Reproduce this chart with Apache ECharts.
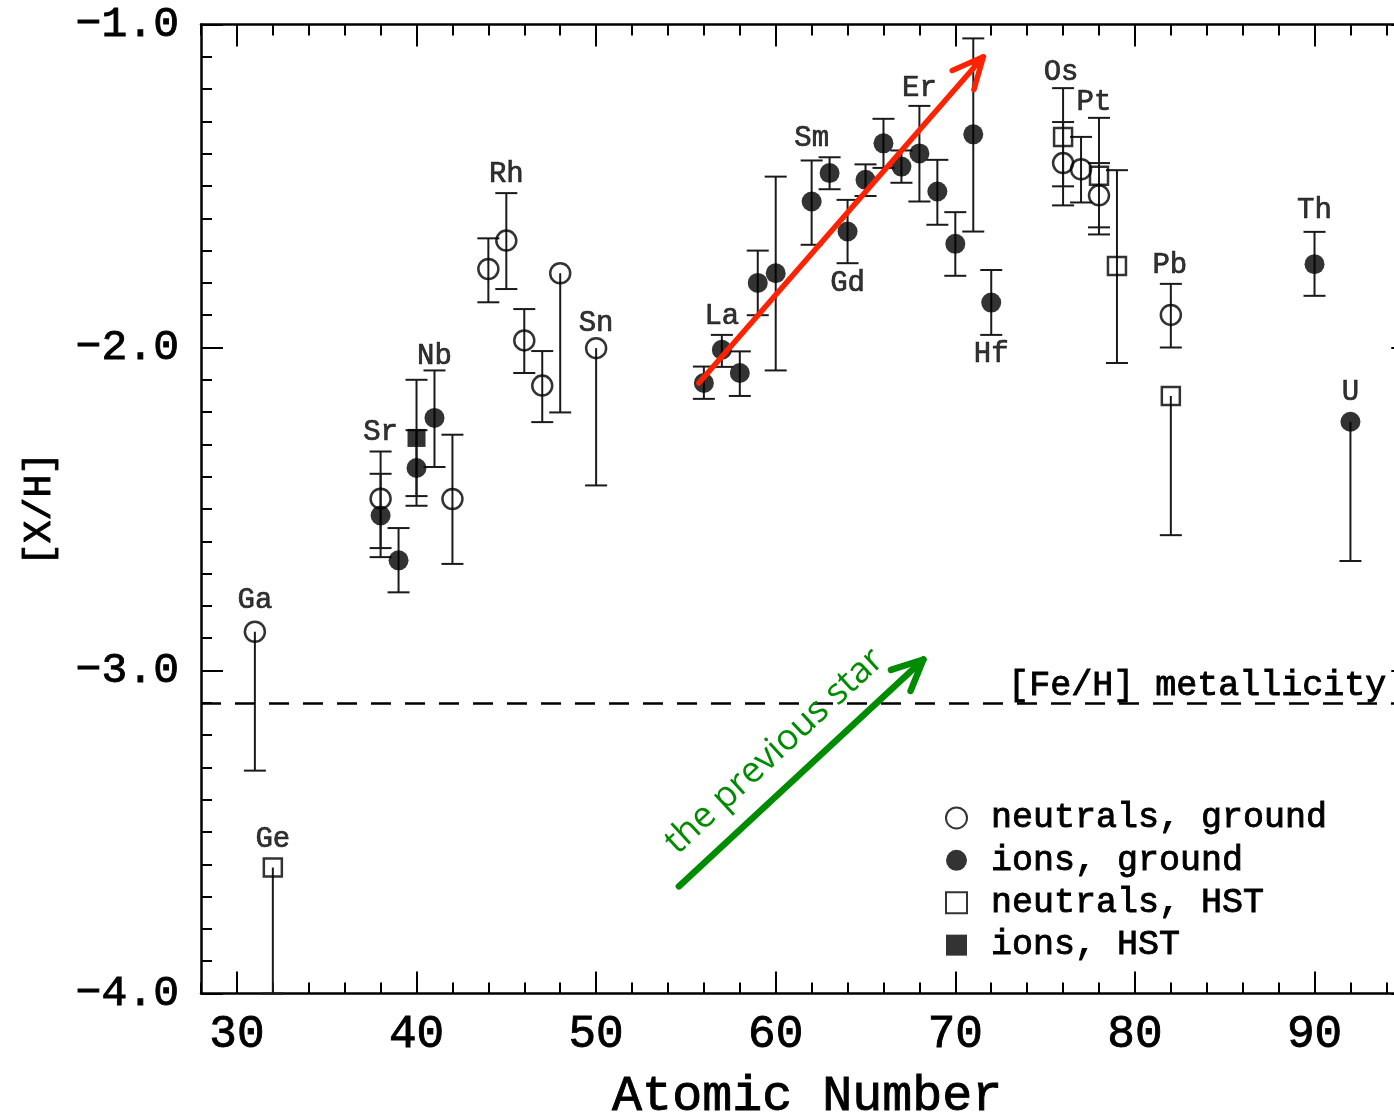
<!DOCTYPE html>
<html><head><meta charset="utf-8">
<script src="https://cdn.jsdelivr.net/npm/echarts@6/dist/echarts.min.js"></script>
<style>html,body{margin:0;padding:0;overflow:hidden;background:#fff}#c{width:1440px;height:1113px}</style>
</head><body><div id="c"></div><script>
// [Z, [X/H], lower end of error bar (null = none), upper end (null = none)]
const neutralsGround = [
  [31, -2.88, -3.31, null],
  [38, -2.468, -2.621, -2.322],
  [42, -2.469, -2.67, -2.27],
  [44, -1.757, -1.86, -1.662],
  [45, -1.669, -1.819, -1.522],
  [46, -1.978, -2.079, -1.881],
  [47, -2.118, -2.231, -2.011],
  [48, -1.77, -2.201, null],
  [50, -2.002, -2.427, null],
  [76, -1.429, -1.56, -1.302],
  [77, -1.448, -1.551, -1.348],
  [78, -1.529, -1.628, -1.429],
  [82, -1.899, -2.0, -1.803]
];
const ionsGround = [
  [38, -2.52, -2.649, -2.391],
  [39, -2.659, -2.758, -2.559],
  [40, -2.373, -2.49, -2.256],
  [41, -2.218, -2.37, -2.071],
  [56, -2.11, -2.159, -2.059],
  [57, -2.007, -2.06, -1.961],
  [58, -2.079, -2.15, -2.012],
  [59, -1.80, -1.90, -1.70],
  [60, -1.77, -2.071, -1.471],
  [62, -1.548, -1.682, -1.421],
  [63, -1.46, -1.51, -1.411],
  [64, -1.641, -1.739, -1.543],
  [65, -1.481, -1.531, -1.433],
  [66, -1.368, -1.444, -1.292],
  [67, -1.44, -1.49, -1.39],
  [68, -1.399, -1.548, -1.252],
  [69, -1.517, -1.62, -1.419],
  [70, -1.679, -1.778, -1.581],
  [71, -1.34, -1.641, -1.043],
  [72, -1.861, -1.961, -1.76],
  [90, -1.742, -1.84, -1.642],
  [92, -2.23, -2.661, null]
];
const neutralsHST = [
  [32, -3.61, -4.0, null],
  [76, -1.348, -1.501, -1.197],
  [78, -1.468, -1.65, -1.289],
  [79, -1.748, -2.048, -1.451],
  [82, -2.15, -2.581, null]
];
const ionsHST = [
  [40, -2.28, -2.46, -2.10]
];
// element labels: [name, Z, [X/H] of the point they belong to]
const elementLabels = [
  ['Ga', 31, -2.88], ['Ge', 32, -3.61], ['Sr', 38, -2.468], ['Nb', 41, -2.218],
  ['Rh', 45, -1.669], ['Sn', 50, -2.002], ['La', 57, -2.007], ['Sm', 62, -1.548],
  ['Gd', 64, -1.641], ['Er', 68, -1.399], ['Hf', 72, -1.861], ['Os', 76, -1.348],
  ['Pt', 78, -1.468], ['Pb', 82, -1.899], ['Th', 90, -1.742], ['U', 92, -2.23]
];
const feH = -3.1;
const feHText = '[Fe/H] metallicity';
const feHTextX = 72.94;
// arrows: [x1, y1, x2, y2] in data units
const arrows = [
  [55.72, -2.11, 71.56, -1.10],
  [54.61, -3.668, 68.22, -2.966]
];
const arrowTexts = ['', 'the previous star'];
const xMajorTicks = [30, 40, 50, 60, 70, 80, 90];
const xMinorTicks = [28,30,32,34,36,38,40,42,44,46,48,50,52,54,56,58,60,62,64,66,68,70,72,74,76,78,80,82,84,86,88,90,92,94];
const yTickLabels = [-4, -3, -2, -1];
const seriesNames = ['neutrals, ground', 'ions, ground', 'neutrals, HST', 'ions, HST'];

// ---------- styles / layout ----------
const MONO = '"Liberation Mono", "DejaVu Sans Mono", monospace';
const THICK = {textBorderColor: '#000', textBorderWidth: 0.9};
const labelOffsets = {
  Ga: [0, -31], Ge: [0, -28], Sr: [0, -66], Nb: [0, -62], Rh: [0, -66], Sn: [0, -25],
  La: [0, -33], Sm: [0, -63], Gd: [0, 52], Er: [0, -65], Hf: [0, 52], Os: [-2, -65],
  Pt: [-5, -73], Pb: [-1, -50], Th: [0, -54], U: [0, -29]
};
const arrowStyles = [
  {color: '#ff2200', width: 5.5, head: 34, spread: 25 * Math.PI / 180},
  {color: '#008c00', width: 6.5, head: 34, spread: 25 * Math.PI / 180, textSize: 36, textNormal: 34, textAlong: -5}
];
const fmtMinus = v => (v < 0 ? '\u2212' : '') + Math.abs(v).toFixed(1);

const chart = echarts.init(document.getElementById('c'), null, {renderer: 'canvas'});

function renderErr(params, api) {
  const x = api.value(0), v = api.value(1), lo = api.value(2), hi = api.value(3);
  const hasLo = lo != null && isFinite(lo), hasHi = hi != null && isFinite(hi);
  const pTop = api.coord([x, hasHi ? hi : v]);
  const pBot = api.coord([x, hasLo ? lo : v]);
  const cw = 11, st = {stroke: '#1a1a1a', lineWidth: 2};
  const ch = [{type: 'line', shape: {x1: pTop[0], y1: pTop[1], x2: pBot[0], y2: pBot[1]}, style: st}];
  if (hasHi) ch.push({type: 'line', shape: {x1: pTop[0] - cw, y1: pTop[1], x2: pTop[0] + cw, y2: pTop[1]}, style: st});
  if (hasLo) ch.push({type: 'line', shape: {x1: pBot[0] - cw, y1: pBot[1], x2: pBot[0] + cw, y2: pBot[1]}, style: st});
  return {type: 'group', children: ch};
}

function renderArrow(params, api) {
  const a = api.coord([api.value(0), api.value(1)]);
  const b = api.coord([api.value(2), api.value(3)]);
  const s = arrowStyles[params.dataIndex];
  const ang = Math.atan2(b[1] - a[1], b[0] - a[0]);
  const h1 = [b[0] - s.head * Math.cos(ang - s.spread), b[1] - s.head * Math.sin(ang - s.spread)];
  const h2 = [b[0] - s.head * Math.cos(ang + s.spread), b[1] - s.head * Math.sin(ang + s.spread)];
  const ls = {stroke: s.color, lineWidth: s.width, lineCap: 'round', lineJoin: 'round', fill: null};
  const ch = [
    {type: 'line', shape: {x1: a[0], y1: a[1], x2: b[0], y2: b[1]}, style: ls},
    {type: 'polyline', shape: {points: [h1, b, h2]}, style: ls}
  ];
  const txt = arrowTexts[params.dataIndex];
  if (txt) {
    const mx = (a[0] + b[0]) / 2, my = (a[1] + b[1]) / 2;
    const d = [Math.cos(ang), Math.sin(ang)];
    const n = [Math.sin(ang), -Math.cos(ang)];
    ch.push({
      type: 'text',
      x: mx + n[0] * s.textNormal + d[0] * s.textAlong,
      y: my + n[1] * s.textNormal + d[1] * s.textAlong,
      rotation: -ang,
      style: {text: txt, fill: s.color, font: s.textSize + 'px "Open Sans", sans-serif', align: 'center', verticalAlign: 'middle'}
    });
  }
  return {type: 'group', children: ch};
}

function renderFeHText(params, api) {
  const p = api.coord([api.value(0), api.value(1)]);
  return {type: 'text', x: p[0], y: p[1] - 17, style: {text: feHText, fill: '#000', stroke: '#000', lineWidth: 0.9, font: '35px ' + MONO, align: 'left', verticalAlign: 'middle'}};
}

const axisLineStyle = {color: '#000', width: 2.5};
const xAxisBase = (pos, ticks, len, showLine) => ({
  type: 'value', min: 28, max: 95.5, position: pos, gridIndex: 0,
  axisLine: {show: showLine, onZero: false, lineStyle: axisLineStyle},
  axisTick: {show: true, inside: true, length: len, customValues: ticks, lineStyle: {color: '#000', width: 2}},
  axisLabel: {show: false},
  splitLine: {show: false}
});

const xAxes = [
  Object.assign(xAxisBase('bottom', xMajorTicks, 22, true), {
    axisLabel: Object.assign({show: true, customValues: xMajorTicks, margin: 18, fontSize: 46, fontFamily: MONO, color: '#000'}, THICK),
    name: 'Atomic Number', nameLocation: 'middle', nameGap: 78,
    nameTextStyle: Object.assign({fontSize: 50, fontFamily: MONO, color: '#000'}, THICK)
  }),
  xAxisBase('bottom', xMinorTicks, 11, false),
  xAxisBase('top', xMajorTicks, 22, true),
  xAxisBase('top', xMinorTicks, 11, false)
];

const yAxisBase = (pos) => ({
  type: 'value', min: -4, max: -1, interval: 1, position: pos,
  axisLine: {show: true, onZero: false, lineStyle: axisLineStyle},
  axisTick: {show: true, inside: true, length: 22, lineStyle: {color: '#000', width: 2}},
  minorTick: {show: true, splitNumber: 10, length: 11, lineStyle: {color: '#000', width: 2}},
  axisLabel: {show: false},
  splitLine: {show: false}, minorSplitLine: {show: false}
});
const yAxes = [
  Object.assign(yAxisBase('left'), {
    axisLabel: Object.assign({show: true, margin: 22, fontSize: 43, fontFamily: MONO, color: '#000', formatter: fmtMinus, customValues: yTickLabels}, THICK),
    name: '[X/H]', nameLocation: 'middle', nameGap: 142, nameRotate: 90,
    nameTextStyle: Object.assign({fontSize: 38, fontFamily: MONO, color: '#000'}, THICK)
  }),
  yAxisBase('right')
];

const markerDefs = [
  {name: seriesNames[0], data: neutralsGround, symbol: 'circle', size: 20, itemStyle: {color: 'rgba(0,0,0,0)', borderColor: '#000', borderWidth: 2.5}},
  {name: seriesNames[1], data: ionsGround, symbol: 'circle', size: 20, itemStyle: {color: '#000', borderWidth: 0}},
  {name: seriesNames[2], data: neutralsHST, symbol: 'rect', size: 18, itemStyle: {color: 'rgba(0,0,0,0)', borderColor: '#000', borderWidth: 2.5}},
  {name: seriesNames[3], data: ionsHST, symbol: 'rect', size: 18, itemStyle: {color: '#000', borderWidth: 0}}
];

const allErr = [].concat(neutralsGround, ionsGround, neutralsHST, ionsHST);

const series = [
  {
    type: 'custom', name: 'errors', renderItem: renderErr, data: allErr,
    encode: {x: 0, y: 1}, z: 2, silent: true,
    markLine: {
      silent: true, symbol: 'none', animation: false,
      label: {show: false},
      lineStyle: {color: '#000', width: 2.5, type: [20, 14]},
      data: [{yAxis: feH}]
    }
  }
].concat(markerDefs.map(m => ({
  type: 'scatter', name: m.name, data: m.data.map(r => [r[0], r[1]]),
  symbol: m.symbol, symbolSize: m.size, itemStyle: m.itemStyle, z: 5
}))).concat([
  {
    type: 'scatter', name: 'labels', symbolSize: 0, z: 6, silent: true,
    data: elementLabels.map(l => ({
      value: [l[1], l[2]], name: l[0],
      label: Object.assign({show: true, position: 'inside', offset: labelOffsets[l[0]], formatter: l[0],
              fontSize: 29, fontFamily: MONO, color: '#000'}, {textBorderColor: '#000', textBorderWidth: 0.7})
    }))
  },
  {
    type: 'custom', name: 'fehText', renderItem: renderFeHText, data: [[feHTextX, feH]],
    encode: {x: 0, y: 1}, z: 7, silent: true
  },
  {
    type: 'custom', name: 'arrows', renderItem: renderArrow, data: arrows,
    encode: {x: [0, 2], y: [1, 3]}, z: 8, silent: true
  }
]);

chart.setOption({
  animation: false,
  backgroundColor: '#fff',
  grid: {left: 201, top: 24.5, width: 1212.3, height: 969, containLabel: false, outerBoundsMode: 'none'},
  xAxis: xAxes,
  yAxis: yAxes,
  legend: {
    data: seriesNames, orient: 'vertical', left: 940, top: 795,
    itemWidth: 21, itemHeight: 21, itemGap: 6.5,
    textStyle: Object.assign({fontSize: 35, fontFamily: MONO, color: '#000', padding: [0, 0, 0, 19]}, THICK),
    selectedMode: false
  },
  series: series
});
</script></body></html>
